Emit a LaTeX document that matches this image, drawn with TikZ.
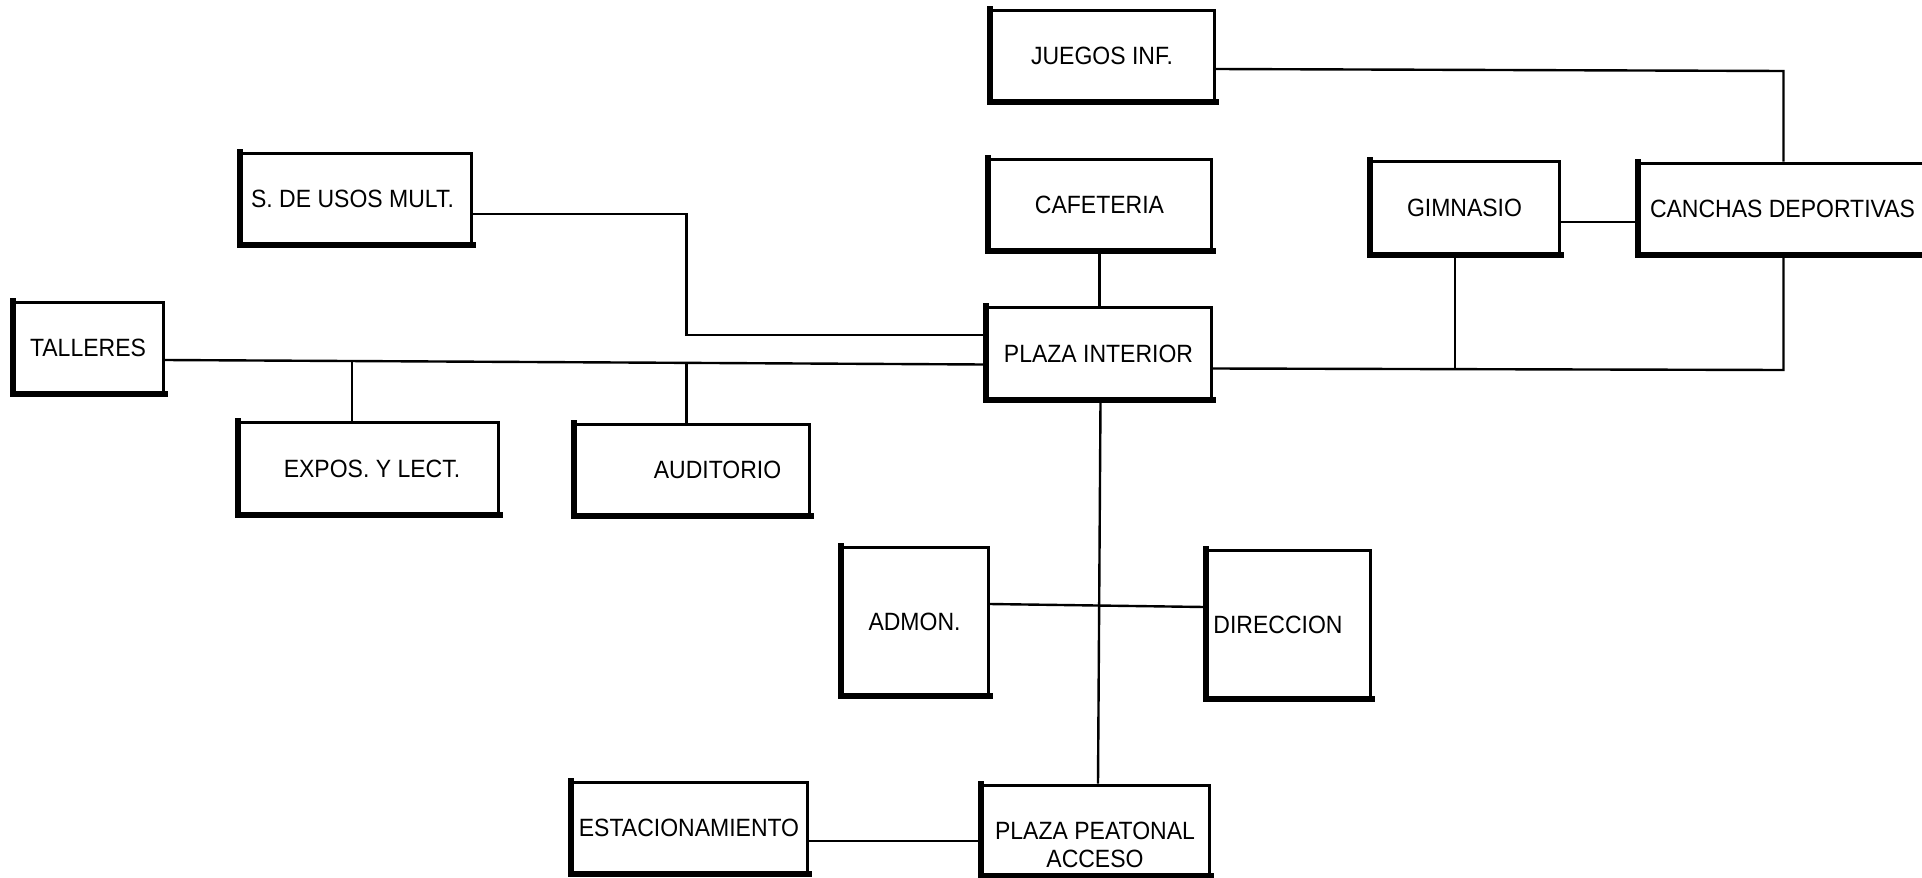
\documentclass[tikz,border=0pt]{standalone}
\usepackage{fontspec}
\setmainfont{Liberation Sans}[FakeStretch=0.92]
\begin{document}
\begin{tikzpicture}[x=1pt,y=-1pt]
\tikzset{
  box/.style={draw, line width=3pt, inner sep=0pt, align=center, font=\fontsize{25}{28}\selectfont},
  lbl/.style={align=center, font=\fontsize{25}{28}\selectfont, inner sep=0pt},
  link/.style={line width=2.4pt},
  shadowline/.style={line width=6pt, line cap=rect}
}
\useasboundingbox (0,0) rectangle (1922,878);
\clip (0,0) rectangle (1922,878);
\fill[white] (0,0) rectangle (1922,878);

% boxes
\node[box, minimum width=224pt, minimum height=92pt] (juegos)   at (1102,56)    {JUEGOS INF.};
\node[box, minimum width=231pt, minimum height=92pt] (usos)     at (355.5,199)  {S. DE USOS MULT.\hspace*{6pt}};
\node[box, minimum width=223pt, minimum height=92pt] (cafe)     at (1099.5,205) {CAFETERIA};
\node[box, minimum width=189pt, minimum height=94pt] (gim)      at (1464.5,208) {GIMNASIO};
\node[box, minimum width=297pt, minimum height=92pt] (canchas)  at (1786.5,209) {\hspace*{-8pt}CANCHAS DEPORTIVAS};
\node[box, minimum width=151pt, minimum height=92pt] (talleres) at (88,348)     {TALLERES};
\node[box, minimum width=225pt, minimum height=92pt] (plazaint) at (1098.5,353.5) {PLAZA INTERIOR};
\node[box, minimum width=260pt, minimum height=93pt] (expos)    at (368,468.5)  {\hspace*{8pt}EXPOS. Y LECT.};
\node[box, minimum width=235pt, minimum height=92pt] (audit)    at (691.5,470)  {\hspace*{52pt}AUDITORIO};
\node[box, minimum width=147pt, minimum height=149pt] (admon)   at (914.5,621.5){ADMON.};
\node[box, minimum width=164pt, minimum height=149pt] (direc)   at (1288,624.5) {DIRECCION\hspace*{20pt}};
\node[box, minimum width=236pt, minimum height=92pt] (estac)    at (689,828)    {ESTACIONAMIENTO};
\node[box, minimum width=228pt, minimum height=91pt,
      label={[lbl, name=peatontxt, yshift=-14pt]center:{PLAZA PEATONAL\\ACCESO}}] (peaton) at (1095,830.5) {};

% shadow (thick left and bottom edges)
\foreach \n in {juegos,usos,cafe,gim,canchas,talleres,plazaint,expos,audit,admon,direc,estac,peaton}
  \draw[shadowline] ([xshift=1.5pt]\n.north west) -- ([xshift=1.5pt,yshift=1.5pt]\n.south west) -- ([yshift=1.5pt]\n.south east);

% junction coordinates
\coordinate (j1) at (686.5,335);
\coordinate (b1) at (352,361);
\coordinate (b2) at (686.5,362);
\coordinate (b3) at (1455,369);
\coordinate (b4) at (1783.5,370);

% connectors
\draw[link] ([yshift=-13pt]juegos.east) -- (1783.5,71) -- ([xshift=-3pt]canchas.north);
\draw[link] ([yshift=-15pt]usos.east) -| (j1) -- (j1 -| plazaint.west);
\draw[link] ([yshift=-12pt]talleres.east) -- ([yshift=-11pt]plazaint.west);
\draw[link] (b1) -- (b1 |- expos.north);
\draw[link] (b2) -- (b2 |- audit.north);
\draw[link] (cafe.south) -- (cafe.south |- plazaint.north);
\draw[link] ([yshift=-15pt]plazaint.east) -- (b4) -- (b4 |- canchas.south);
\draw[link] (b3) -- (b3 |- gim.south);
\draw[link] ([yshift=-14pt]gim.east) -- ([yshift=-14pt]gim.east -| canchas.west);
\draw[link] ([xshift=2pt]plazaint.south) -- ([xshift=3pt]peaton.north);
\draw[link] ([yshift=17.5pt]admon.east) -- ([yshift=17.5pt]direc.west);
\draw[link] ([yshift=-13pt]estac.east) -- ([yshift=-13pt]estac.east -| peaton.west);
\end{tikzpicture}
\end{document}
